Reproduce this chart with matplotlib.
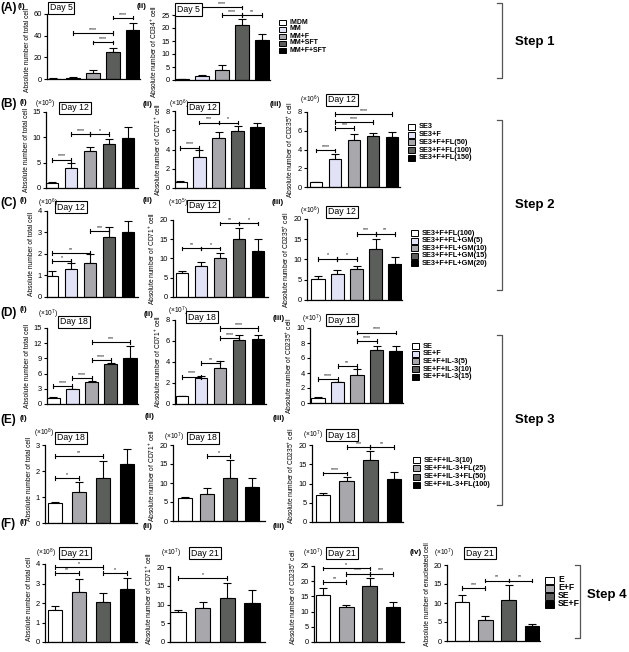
import matplotlib
matplotlib.use('Agg')
import matplotlib.pyplot as plt
import numpy as np

W, H = 629, 652
plt.rcParams['font.family'] = ['Liberation Sans', 'DejaVu Sans']
plt.rcParams['mathtext.fontset'] = 'custom'
plt.rcParams['mathtext.rm'] = 'Liberation Sans'
plt.rcParams['mathtext.it'] = 'Liberation Sans:italic'
plt.rcParams['mathtext.bf'] = 'Liberation Sans:bold'

fig = plt.figure(figsize=(W / 100, H / 100), dpi=100)

WHITE = '#ffffff'; LAV = '#e2e2f6'; LGREY = '#a8a8ac'; DGREY = '#5b5e5b'; BLACK = '#000000'
COL5 = [WHITE, LAV, LGREY, DGREY, BLACK]
COL4 = [WHITE, LGREY, DGREY, BLACK]

# ---------------- data ----------------
A_legend = ['IMDM', 'MM', 'MM+F', 'MM+SFT', 'MM+F+SFT']
B_legend = ['SE3', 'SE3+F', 'SE3+F+FL(50)', 'SE3+F+FL(100)', 'SE3+F+FL(150)']
C_legend = ['SE3+F+FL(100)', 'SE3+F+FL+GM(5)', 'SE3+F+FL+GM(10)', 'SE3+F+FL+GM(15)', 'SE3+F+FL+GM(20)']
D_legend = ['SE', 'SE+F', 'SE+F+IL-3(5)', 'SE+F+IL-3(10)', 'SE+F+IL-3(15)']
E_legend = ['SE+F+IL-3(10)', 'SE+F+IL-3+FL(25)', 'SE+F+IL-3+FL(50)', 'SE+F+IL-3+FL(100)']
F_legend = ['E', 'E+F', 'SE', 'SE+F']

A1_mean = [0.3, 1.2, 6.0, 25.0, 45.0]
A1_err = [0.2, 0.5, 2.0, 4.0, 7.0]
A1_sig = [(2, 3, 33.8, '****'), (1, 3, 42.5, '****'), (3, 4, 56.6, '****')]
A2_mean = [0.3, 1.4, 3.8, 21.0, 15.2]
A2_err = [0.2, 0.4, 1.8, 2.3, 2.5]
A2_sig = [(1, 3, 27.9, '****'), (2, 3, 25.0, '****'), (3, 4, 25.0, '**')]

B1_mean = [1.0, 4.0, 7.4, 8.7, 9.8]
B1_err = [0.1, 0.9, 0.7, 1.0, 2.3]
B1_sig = [(0, 1, 5.6, '****'), (1, 2, 10.6, '****'), (2, 3, 10.6, '*')]
B2_mean = [0.65, 3.25, 5.2, 5.9, 6.3]
B2_err = [0.05, 0.65, 0.65, 0.5, 0.5]
B2_sig = [(0, 1, 4.2, '****'), (1, 2, 6.8, '***'), (2, 3, 6.8, '*')]
B3_mean = [0.5, 3.0, 5.0, 5.4, 5.3]
B3_err = [0.05, 0.5, 0.7, 0.4, 0.6]
B3_sig = [(0, 1, 3.9, '****'), (1, 2, 6.3, '***'), (1, 3, 6.9, '****'), (1, 4, 7.8, '****')]

C1_mean = [0.97, 1.3, 1.6, 2.8, 3.0]
C1_err = [0.22, 0.3, 0.38, 0.45, 0.55]
C1_sig = [(0, 1, 1.66, '*'), (0, 2, 2.05, '**'), (2, 3, 3.07, '***')]
C2_mean = [6.3, 8.0, 10.0, 15.0, 12.0]
C2_err = [0.4, 1.0, 1.3, 2.8, 3.0]
C2_sig = [(0, 1, 12.6, '**'), (1, 2, 12.6, '*'), (2, 3, 19.1, '**'), (3, 4, 19.1, '*')]
C3_mean = [5.3, 6.5, 7.6, 12.6, 8.8]
C3_err = [0.6, 1.0, 0.8, 2.5, 1.8]
C3_sig = [(0, 1, 10.2, '*'), (1, 2, 10.2, '*'), (2, 3, 16.4, '***'), (3, 4, 16.4, '**')]

D1_mean = [1.2, 2.9, 4.3, 7.8, 9.0]
D1_err = [0.1, 0.1, 0.3, 0.2, 2.4]
D1_sig = [(0, 1, 3.6, '****'), (1, 2, 5.1, '****'), (2, 3, 8.7, '****'), (2, 4, 12.3, '***')]
D2_mean = [0.75, 2.5, 3.4, 6.1, 6.2]
D2_err = [0.05, 0.15, 0.65, 0.5, 0.4]
D2_sig = [(0, 1, 2.6, '****'), (1, 2, 3.9, '**'), (2, 3, 6.25, '****'), (2, 4, 7.2, '****')]
D3_mean = [0.7, 2.75, 3.8, 7.1, 7.0]
D3_err = [0.05, 0.1, 0.7, 0.55, 0.6]
D3_sig = [(0, 1, 3.2, '****'), (1, 2, 4.9, '**'), (2, 3, 8.3, '****'), (2, 4, 9.4, '****')]

E1_mean = [0.78, 1.2, 1.75, 2.28]
E1_err = [0.02, 0.38, 0.65, 0.55]
E1_sig = [(0, 1, 1.73, '*'), (0, 2, 2.56, '**')]
E2_mean = [6.0, 7.2, 11.2, 9.0]
E2_err = [0.4, 1.4, 4.8, 2.3]
E2_sig = [(1, 2, 17.1, '*')]
E3_mean = [7.0, 10.7, 16.0, 11.2]
E3_err = [0.6, 0.9, 2.5, 1.9]
E3_sig = [(0, 1, 12.6, '****'), (1, 2, 19.4, '***'), (2, 3, 19.4, '**')]

F1_mean = [1.65, 2.55, 2.05, 2.72]
F1_err = [0.22, 0.7, 0.45, 0.58]
F1_sig = [(0, 1, 3.53, '**'), (0, 2, 3.84, '*'), (2, 3, 3.53, '*')]
F2_mean = [8.0, 9.2, 11.7, 10.4]
F2_err = [0.5, 1.4, 4.0, 3.4]
F2_sig = [(0, 2, 17.1, '*')]
F3_mean = [15.3, 11.4, 18.4, 11.4]
F3_err = [2.5, 0.8, 2.5, 1.8]
F3_sig = [(0, 1, 19.8, '**'), (0, 2, 24.2, '*'), (1, 2, 22.5, '****'), (2, 3, 22.5, '***')]
F4_mean = [10.3, 5.6, 10.7, 4.0]
F4_err = [1.9, 0.9, 4.0, 0.6]
F4_sig = [(0, 1, 13.9, '***'), (1, 2, 15.9, '**'), (2, 3, 15.9, '**')]

TOT = 'Absolute number of total cell'
CD34 = r'Absolute number of CD34$^{+}$ cell'
CD71 = r'Absolute number of CD71$^{+}$ cell'
CD235 = r'Absolute number of CD235$^{+}$ cell'
ENU = 'Absolute number of enucleated cell'

# ---------------- helpers ----------------
def fx(x):
    return x / W

def fy(y):
    return 1 - y / H

def ftext(x, y, s, **kw):
    fig.text(fx(x), fy(y), s, **kw)


def panel(rect, mean, err, sig, colors, ymax, yticks, ylabel, width, day, dpos,
          mult=None, mpos=None, ly=0.5):
    l, r, t, b, c1, cn = rect
    n = len(mean)
    ax = fig.add_axes([fx(l), fy(b), (r - l) / W, (b - t) / H])
    s = (cn - c1) / (n - 1)
    ax.set_xlim(-(c1 - l) / s, (n - 1) + (r - cn) / s)
    ax.set_ylim(0, ymax)
    x = np.arange(n)
    ax.bar(x, mean, width=width, color=colors, edgecolor='black', linewidth=0.8, zorder=2)
    ax.errorbar(x, mean, yerr=[np.zeros(n), err], fmt='none', ecolor='black',
                elinewidth=0.8, capsize=2.6, capthick=0.8, zorder=1)
    for sp in ['top', 'right']:
        ax.spines[sp].set_visible(False)
    for sp in ['left', 'bottom']:
        ax.spines[sp].set_linewidth(0.9)
    ax.set_xticks([])
    ax.set_yticks(yticks)
    ax.tick_params(axis='y', labelsize=5.4, length=2.5, width=0.8, pad=1)
    ax.set_ylabel(ylabel, fontsize=4.8, labelpad=2)
    ax.yaxis.label.set_y(ly)
    ax.patch.set_alpha(0)
    dy = ymax * 0.025
    for i, j, yy, lab in sig:
        ax.plot([i, j], [yy, yy], color='black', lw=0.8, clip_on=False, zorder=3)
        for xx in (i, j):
            ax.plot([xx, xx], [yy - dy, yy + dy], color='black', lw=0.8, clip_on=False, zorder=3)
        ax.text((i + j) / 2, yy + dy * 0.6, lab, fontsize=3.8, ha='center', va='bottom',
                clip_on=False)
    ftext(dpos[0], dpos[1], day, fontsize=6.3, ha='center', va='center',
          bbox=dict(boxstyle='square,pad=0.22', fc='white', ec='black', lw=0.8))
    if mult is not None:
        ftext(mpos[0], mpos[1], mult, fontsize=4.8, ha='center', va='center')
    return ax


def legend(x, y0, dy, labels, colors, fs=5.3, sw=7, sh=6):
    for k, (lab, c) in enumerate(zip(labels, colors)):
        yy = y0 + k * dy
        fig.patches.append(plt.Rectangle((fx(x), fy(yy + sh / 2)), sw / W, sh / H,
                                         transform=fig.transFigure, fc=c, ec='black', lw=0.7))
        ftext(x + sw + 4, yy, lab, fontsize=fs, fontweight='bold', ha='left', va='center')


def bracket(x, y1, y2):
    fig.add_artist(plt.Line2D([fx(x - 5), fx(x), fx(x), fx(x - 5)],
                              [fy(y1), fy(y1), fy(y2), fy(y2)],
                              transform=fig.transFigure, color='#555555', lw=0.9))


def plabel(x, y, s, big=False):
    if big:
        ftext(x, y, s, fontsize=8.5, fontweight='bold', ha='left', va='center')
    else:
        ftext(x, y, s, fontsize=5.8, fontweight='bold', ha='left', va='center')


def mx(n):
    return r'(×10$^{%d}$)' % n

# ---------------- Row A ----------------
panel((47, 140, 14, 79, 53, 133), A1_mean, A1_err, A1_sig, COL5, 60, [0, 20, 40, 60], TOT, 0.68,
      'Day 5', (61, 8), ly=0.45)
panel((175, 270, 15, 80, 182, 262), A2_mean, A2_err, A2_sig, COL5, 25, [0, 5, 10, 15, 20, 25], CD34, 0.68,
      'Day 5', (188.5, 9.5), ly=0.43)
legend(279, 22, 7, A_legend, COL5, fs=5.0, sw=7, sh=5)
plabel(0, 8, '(A)', True); plabel(18, 7, '(i)'); plabel(137, 6, '(ii)')

# ---------------- Row B ----------------
panel((46, 138, 112, 188, 52, 128), B1_mean, B1_err, B1_sig, COL5, 15, [0, 5, 10, 15], TOT, 0.68,
      'Day 12', (75, 108), mx(5), (45, 104))
panel((175, 265, 111, 188, 180, 257), B2_mean, B2_err, B2_sig, COL5, 8, [0, 2, 4, 6, 8], CD71, 0.68,
      'Day 12', (203, 108), mx(6), (179, 104))
panel((307, 400, 112, 187, 316, 392), B3_mean, B3_err, B3_sig, COL5, 8, [0, 2, 4, 6, 8], CD235, 0.68,
      'Day 12', (342, 100), mx(6), (310, 100))
legend(408, 127, 7.7, B_legend, COL5)
plabel(0, 104, '(B)', True); plabel(20, 102, '(i)'); plabel(143, 105, '(ii)'); plabel(270, 105, '(iii)')

# ---------------- Row C ----------------
panel((47, 138, 211, 297, 52, 128), C1_mean, C1_err, C1_sig, COL5, 4, [0, 1, 2, 3, 4], TOT, 0.68,
      'Day 12', (71, 207), mx(6), (48, 203))
panel((173, 268, 220, 297, 182, 258), C2_mean, C2_err, C2_sig, COL5, 20, [0, 5, 10, 15, 20], CD71, 0.68,
      'Day 12', (203, 206), mx(5), (178, 203))
panel((307, 402, 219, 300, 318, 395), C3_mean, C3_err, C3_sig, COL5, 20, [0, 5, 10, 15, 20], CD235, 0.68,
      'Day 12', (342, 212), mx(6), (310, 211))
legend(411, 233, 7.6, C_legend, COL5)
plabel(0, 203, '(C)', True); plabel(20, 201, '(i)'); plabel(143, 201, '(ii)'); plabel(272, 203, '(iii)')

# ---------------- Row D ----------------
panel((47, 138, 328, 404, 53, 130), D1_mean, D1_err, D1_sig, COL5, 15, [0, 3, 6, 9, 12, 15], TOT, 0.68,
      'Day 18', (74, 322), mx(7), (48, 314))
panel((175, 266, 320, 404, 182, 258), D2_mean, D2_err, D2_sig, COL5, 8, [0, 2, 4, 6, 8], CD71, 0.68,
      'Day 18', (202, 317), mx(7), (178, 311))
panel((310, 403, 328, 403, 318, 396), D3_mean, D3_err, D3_sig, COL5, 10, [0, 2, 4, 6, 8, 10], CD235, 0.68,
      'Day 18', (342, 320), mx(7), (312, 319))
legend(412, 346, 7.7, D_legend, COL5)
plabel(0, 313, '(D)', True); plabel(20, 310, '(i)'); plabel(144, 314, '(ii)'); plabel(273, 318, '(iii)')

# ---------------- Row E ----------------
panel((45, 137, 445, 523, 55, 127), E1_mean, E1_err, E1_sig, COL4, 3, [0, 1, 2, 3], TOT, 0.62,
      'Day 18', (71, 438), mx(8), (44, 433), ly=0.57)
panel((173, 265, 445, 521, 185, 252), E2_mean, E2_err, E2_sig, COL4, 20, [0, 5, 10, 15, 20], CD71, 0.62,
      'Day 18', (203, 438), mx(7), (174, 437), ly=0.6)
panel((312, 403, 445, 522, 323, 394), E3_mean, E3_err, E3_sig, COL4, 20, [0, 5, 10, 15, 20], CD235, 0.62,
      'Day 18', (342, 435), mx(7), (313, 435), ly=0.6)
legend(413, 460, 8.3, E_legend, COL4)
plabel(0, 420, '(E)', True); plabel(20, 418, '(i)'); plabel(145, 417, '(ii)'); plabel(273, 418, '(iii)')

# ---------------- Row F ----------------
panel((45, 137, 564, 642, 55, 127), F1_mean, F1_err, F1_sig, COL4, 4, [0, 1, 2, 3, 4], TOT, 0.62,
      'Day 21', (75, 553), mx(8), (46, 553), ly=0.55)
panel((170, 265, 567, 642, 178, 252), F2_mean, F2_err, F2_sig, COL4, 20, [0, 5, 10, 15, 20], CD71, 0.62,
      'Day 21', (205, 553), mx(7), (171, 553), ly=0.58)
panel((314, 404, 566, 642, 323, 393), F3_mean, F3_err, F3_sig, COL4, 25, [0, 5, 10, 15, 20, 25], CD235, 0.62,
      'Day 21', (342, 553), mx(7), (313, 553), ly=0.6)
panel((447, 540, 565, 641, 462, 532), F4_mean, F4_err, F4_sig, COL4, 20, [0, 5, 10, 15, 20], ENU, 0.62,
      'Day 21', (480, 553), mx(7), (444, 553), ly=0.62)
legend(545, 580, 8.0, F_legend, COL4, fs=6.2, sw=9, sh=7)
plabel(0, 524, '(F)', True); plabel(20, 522, '(i)'); plabel(143, 526, '(ii)'); plabel(273, 527, '(iii)')
plabel(410, 553, '(iv)')

# ---------------- Steps ----------------
bracket(502, 3, 78)
ftext(515, 42, 'Step 1', fontsize=9.5, fontweight='bold', ha='left', va='center')
bracket(502, 120, 290)
ftext(515, 205, 'Step 2', fontsize=9.5, fontweight='bold', ha='left', va='center')
bracket(502, 335, 505)
ftext(515, 420, 'Step 3', fontsize=9.5, fontweight='bold', ha='left', va='center')
bracket(580, 565, 638)
ftext(587, 595, 'Step 4', fontsize=9.5, fontweight='bold', ha='left', va='center')

fig.savefig('out.png', dpi=100, facecolor='white')
